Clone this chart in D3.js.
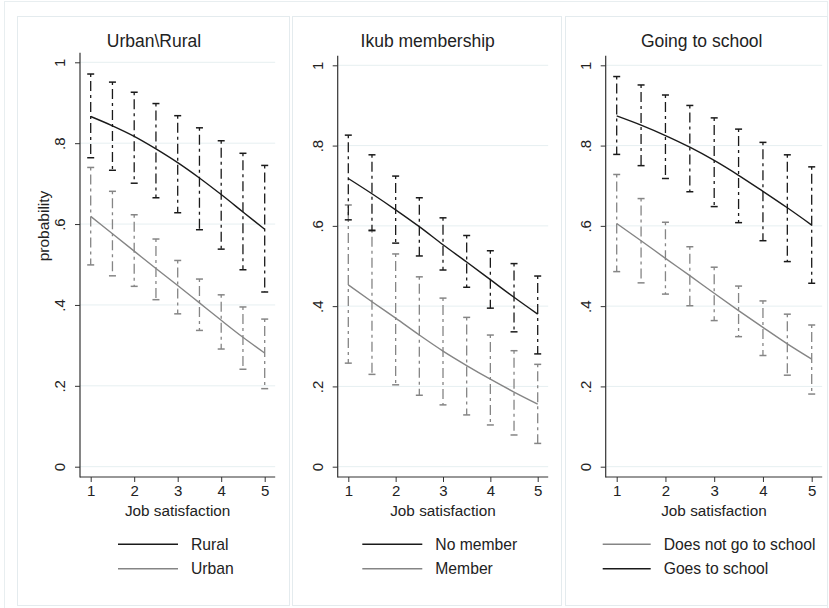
<!DOCTYPE html>
<head>
  <title>Predicted probability by job satisfaction</title>
  <style>
    body { margin: 0; background: #fff; }
    text { font-family: "Liberation Sans", Arial, sans-serif; fill: #222; }
  </style>
</head>
<body>
<script src="https://cdn.jsdelivr.net/npm/d3@7"></script>
<script>
  // x positions of predictions and CIs
  var jobSat = [1, 1.5, 2, 2.5, 3, 3.5, 4, 4.5, 5];
  var xTicks = [1, 2, 3, 4, 5];
  var yTicks = [0, .2, .4, .6, .8, 1];
  var yTickLabels = ["0", ".2", ".4", ".6", ".8", "1"];

  // panel 1: Urban\Rural
  var rural   = [0.866, 0.843, 0.817, 0.786, 0.752, 0.714, 0.673, 0.630, 0.587];
  var ruralHi = [0.971, 0.951, 0.926, 0.898, 0.868, 0.838, 0.806, 0.775, 0.745];
  var ruralLo = [0.764, 0.733, 0.701, 0.665, 0.628, 0.586, 0.538, 0.487, 0.432];
  var urban   = [0.619, 0.576, 0.533, 0.490, 0.448, 0.405, 0.362, 0.320, 0.281];
  var urbanHi = [0.740, 0.681, 0.623, 0.563, 0.510, 0.464, 0.425, 0.395, 0.365];
  var urbanLo = [0.499, 0.472, 0.446, 0.413, 0.378, 0.337, 0.291, 0.241, 0.193];

  // panel 2: Ikub membership
  var noMember   = [0.718, 0.680, 0.640, 0.598, 0.553, 0.510, 0.466, 0.422, 0.380];
  var noMemberHi = [0.826, 0.777, 0.724, 0.670, 0.620, 0.576, 0.538, 0.506, 0.475];
  var noMemberLo = [0.615, 0.588, 0.557, 0.525, 0.490, 0.447, 0.395, 0.336, 0.281];
  var member     = [0.453, 0.411, 0.370, 0.328, 0.288, 0.252, 0.218, 0.186, 0.156];
  var memberHi   = [0.652, 0.590, 0.530, 0.473, 0.420, 0.372, 0.328, 0.289, 0.255];
  var memberLo   = [0.258, 0.230, 0.204, 0.178, 0.154, 0.129, 0.104, 0.079, 0.058];

  // panel 3: Going to school
  var goes    = [0.874, 0.851, 0.825, 0.796, 0.763, 0.726, 0.686, 0.645, 0.602];
  var goesHi  = [0.972, 0.951, 0.926, 0.900, 0.869, 0.841, 0.808, 0.777, 0.747];
  var goesLo  = [0.778, 0.750, 0.718, 0.685, 0.648, 0.608, 0.563, 0.511, 0.457];
  var notGo   = [0.606, 0.563, 0.519, 0.476, 0.432, 0.389, 0.347, 0.306, 0.268];
  var notGoHi = [0.728, 0.668, 0.609, 0.548, 0.497, 0.450, 0.413, 0.380, 0.353];
  var notGoLo = [0.486, 0.458, 0.430, 0.401, 0.364, 0.324, 0.277, 0.228, 0.181];

  var black = "#1a1a1a", gray = "#858585";

  var panels = [
    { title: "Urban\\Rural", box: [17, 289], axisX: 80, x1: 90.7, x5: 264.7, y1: 62.3, titleX: 154, ylab: true,
      lines: [{ name: "Urban", v: urban, hi: urbanHi, lo: urbanLo, color: gray },
              { name: "Rural", v: rural, hi: ruralHi, lo: ruralLo, color: black }],
      legend: ["Rural", "Urban"], legX: 118 },
    { title: "Ikub membership", box: [292, 561], axisX: 337.7, x1: 348.3, x5: 537.7, y1: 65.3, titleX: 427.7,
      lines: [{ name: "Member", v: member, hi: memberHi, lo: memberLo, color: gray },
              { name: "No member", v: noMember, hi: noMemberHi, lo: noMemberLo, color: black }],
      legend: ["No member", "Member"], legX: 362.3 },
    { title: "Going to school", box: [565, 827], axisX: 605.7, x1: 616.7, x5: 811.7, y1: 65.3, titleX: 701.7,
      lines: [{ name: "Does not go to school", v: notGo, hi: notGoHi, lo: notGoLo, color: gray },
              { name: "Goes to school", v: goes, hi: goesHi, lo: goesLo, color: black }],
      legend: ["Does not go to school", "Goes to school"], legX: 602.7 }
  ];

  var svg = d3.select("body").append("svg")
      .attr("width", 829)
      .attr("height", 608);

  // outer frame
  svg.append("rect").attr("x", 4.5).attr("y", 1.5).attr("width", 823).attr("height", 620)
      .attr("fill", "none").attr("stroke", "#e8eef0");

  panels.forEach(function (p) {
    var g = svg.append("g");
    var colorOf = {};
    p.lines.forEach(function (s) { colorOf[s.name] = s.color; });

    g.append("rect").attr("x", p.box[0] + .5).attr("y", 16.5)
        .attr("width", p.box[1] - p.box[0]).attr("height", 589)
        .attr("fill", "none").attr("stroke", "#e4ebee");

    var x = d3.scaleLinear().domain([1, 5]).range([p.x1, p.x5]);
    var y = d3.scaleLinear().domain([0, 1]).range([466.7, p.y1]);
    var xLeft = p.axisX, xRight = p.x5 + 10.5, yBottom = 477, yTop = p.y1 - 9.5;

    // gridlines
    g.selectAll(".grid").data(yTicks).enter().append("line")
        .attr("x1", xLeft).attr("x2", xRight)
        .attr("y1", function (d) { return y(d); }).attr("y2", function (d) { return y(d); })
        .attr("stroke", "#e6eff1").attr("stroke-width", 1);

    // y axis
    var ya = g.append("g").attr("transform", "translate(" + xLeft + ",0)")
        .call(d3.axisLeft(y).tickValues(yTicks).tickSize(5).tickPadding(14)
          .tickFormat(function (d, i) { return yTickLabels[i]; }));
    ya.select(".domain").remove();
    ya.selectAll(".tick line").attr("stroke", "#333");
    ya.selectAll(".tick text")
        .attr("transform", function () { return "rotate(-90," + (-20) + ",0)"; })
        .attr("x", -20).attr("dy", "0.35em")
        .attr("text-anchor", "middle")
        .style("font-size", "15px").style("font-family", "Liberation Sans, Arial, sans-serif").attr("fill", "#222");

    // x axis
    var xa = g.append("g").attr("transform", "translate(0," + yBottom + ")")
        .call(d3.axisBottom(x).tickValues(xTicks).tickSize(5).tickPadding(3).tickFormat(d3.format("d")));
    xa.select(".domain").remove();
    xa.selectAll(".tick line").attr("stroke", "#333");
    xa.selectAll(".tick text").style("font-size", "15px")
        .style("font-family", "Liberation Sans, Arial, sans-serif").attr("fill", "#222");

    g.append("line").attr("x1", xLeft).attr("x2", xLeft).attr("y1", yTop).attr("y2", yBottom + .5)
        .attr("stroke", "#333").attr("stroke-width", 1.2);
    g.append("line").attr("x1", xLeft).attr("x2", xRight).attr("y1", yBottom).attr("y2", yBottom)
        .attr("stroke", "#333").attr("stroke-width", 1.2);

    // CI bars (dash-dot) with caps
    p.lines.forEach(function (s) {
      var bars = g.append("g");
      bars.selectAll("line.bar").data(jobSat).enter().append("line")
          .attr("x1", function (d) { return x(d); }).attr("x2", function (d) { return x(d); })
          .attr("y1", function (d, i) { return y(s.hi[i]); })
          .attr("y2", function (d, i) { return y(s.lo[i]); })
          .attr("stroke", s.color).attr("stroke-width", 1.3)
          .attr("stroke-dasharray", "3,4,10,4");
      ["hi", "lo"].forEach(function (k) {
        bars.selectAll("line.cap" + k).data(jobSat).enter().append("line")
            .attr("x1", function (d) { return x(d) - 3.5; }).attr("x2", function (d) { return x(d) + 3.5; })
            .attr("y1", function (d, i) { return y(s[k][i]); })
            .attr("y2", function (d, i) { return y(s[k][i]); })
            .attr("stroke", s.color).attr("stroke-width", 1.5);
      });
    });

    // predicted lines
    var line = d3.line()
        .x(function (d) { return x(d[0]); })
        .y(function (d) { return y(d[1]); })
        .curve(d3.curveMonotoneX);
    p.lines.forEach(function (s) {
      g.append("path")
          .datum(jobSat.map(function (d, i) { return [d, s.v[i]]; }))
          .attr("fill", "none").attr("stroke", s.color).attr("stroke-width", 1.4)
          .attr("d", line);
    });

    // titles
    g.append("text").attr("x", p.titleX).attr("y", 47).attr("text-anchor", "middle")
        .style("font-size", "17.5px").text(p.title);
    g.append("text").attr("x", (xLeft + xRight) / 2).attr("y", 516).attr("text-anchor", "middle")
        .style("font-size", "15.3px").text("Job satisfaction");
    if (p.ylab) {
      g.append("text").attr("transform", "translate(43.5,226) rotate(-90)")
          .attr("text-anchor", "middle").attr("dy", "0.35em")
          .style("font-size", "15.5px").text("probability");
    }

    // legend
    p.legend.forEach(function (name, i) {
      var ly = 544.3 + i * 24.4;
      var lw = p.legend[0].length > 15 ? 48 : 60;
      g.append("line").attr("x1", p.legX).attr("x2", p.legX + lw).attr("y1", ly).attr("y2", ly)
          .attr("stroke", colorOf[name]).attr("stroke-width", 1.4);
      g.append("text").attr("x", p.legX + lw + 13).attr("y", ly).attr("dy", "0.35em")
          .style("font-size", "15.7px").text(name);
    });
  });
</script>
</body>
